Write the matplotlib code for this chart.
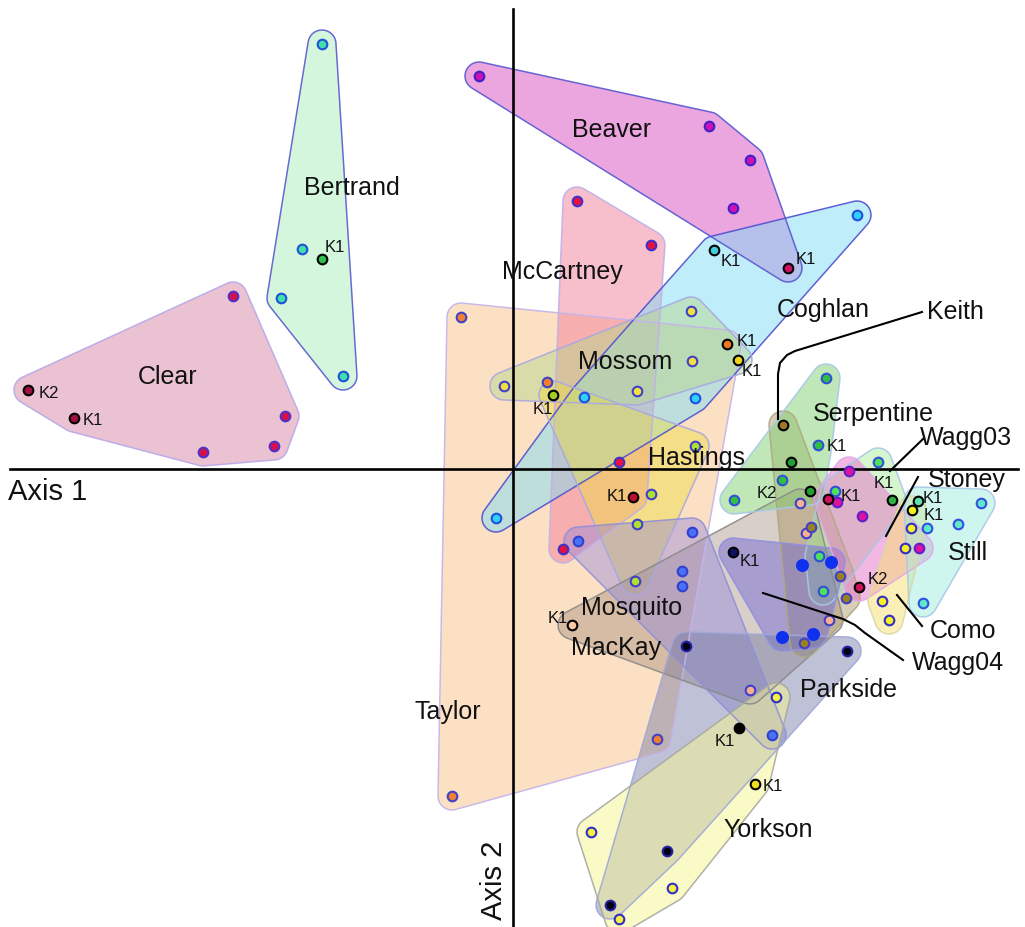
import numpy as np
import matplotlib.pyplot as plt
from matplotlib.patches import Polygon

plt.rcParams['font.family'] = ['Liberation Sans', 'DejaVu Sans']

# Site scores on ordination axes 1 and 2, one pair of lists per lake.
# *_k holds the K reference samples of the same lake.
clear_pts = [(-2.80, 1.73), (-2.28, 0.53), (-2.39, 0.23), (-3.10, 0.17)]
clear_k = [(-4.85, 0.79), (-4.39, 0.51)]
bertrand_pts = [(-1.91, 4.25), (-2.11, 2.20), (-2.32, 1.71), (-1.70, 0.93)]
bertrand_k = [(-1.91, 2.10)]
beaver_pts = [(-0.34, 3.93), (1.96, 3.43), (2.37, 3.09), (2.20, 2.61)]
beaver_k = [(2.75, 2.01)]
mccartney_pts = [(0.64, 2.68), (1.38, 2.24), (1.06, 0.07), (0.50, -0.80)]
mccartney_k = [(1.20, -0.28)]
coghlan_pts = [(3.44, 2.54), (0.71, 0.72), (1.82, 0.71), (-0.17, -0.49)]
coghlan_k = [(2.01, 2.19)]
mossom_pts = [(1.78, 1.58), (1.79, 1.08), (1.24, 0.78), (-0.09, 0.83)]
mossom_k = [(2.25, 1.09)]
taylor_pts = [(-0.52, 1.52), (0.34, 0.87), (1.44, -2.70), (-0.61, -3.27)]
taylor_k = [(2.14, 1.25)]
hastings_pts = [(1.82, 0.23), (1.38, -0.25), (1.24, -0.55), (1.22, -1.12)]
hastings_k = [(0.40, 0.74)]
mosquito_pts = [(0.65, -0.72), (1.79, -0.63), (1.69, -1.02), (1.69, -1.17), (2.59, -2.66)]
mosquito_k = []
mackay_pts = [(2.87, -0.34), (2.93, -0.64), (3.16, -1.51), (2.37, -2.21)]
mackay_k = [(0.59, -1.56)]
parkside_pts = [(1.73, -1.77), (3.34, -1.82), (1.54, -3.82), (0.97, -4.36)]
parkside_k = [(2.26, -2.59)]
yorkson_pts = [(2.63, -2.28), (0.78, -3.63), (1.59, -4.19), (1.06, -4.50)]
yorkson_k = [(2.42, -3.15)]
keith_pts = [(2.98, -0.58), (3.27, -1.07), (3.33, -1.29), (2.91, -1.74)]
keith_k = [(2.70, 0.44)]
serpentine_pts = [(3.13, 0.91), (3.05, 0.24), (2.69, -0.11), (2.21, -0.31)]
serpentine_k = [(2.78, 0.07), (2.97, -0.22)]
wagg03_pts = [(3.65, 0.07), (3.22, -0.22), (3.06, -0.87), (3.10, -1.22)]
wagg03_k = [(3.79, -0.31)]
wagg04_pts = [(2.89, -0.96), (3.18, -0.93), (2.69, -1.68), (3.00, -1.65)]
wagg04_k = [(2.20, -0.83)]
stoney_pts = [(3.36, -0.02), (3.49, -0.47), (3.24, -0.33), (4.06, -0.79)]
stoney_k = [(3.15, -0.30), (3.46, -1.18)]
como_pts = [(3.98, -0.59), (3.92, -0.79), (3.69, -1.32), (3.76, -1.51)]
como_k = [(3.99, -0.41)]
still_pts = [(4.68, -0.34), (4.45, -0.55), (4.14, -0.59), (4.10, -1.34)]
still_k = [(4.05, -0.32)]

# name, points, K points, hull fill, fill alpha, hull edge, marker face, marker edge, K face
lakes = [
    ("Taylor", taylor_pts, taylor_k, "#fbc793", 0.55, "#c4b4ec", "#f08030", "#4040c8", "#f07820"),
    ("Clear", clear_pts, clear_k, "#d787a7", 0.5, "#b8a8e8", "#d81048", "#5030c8", "#a01040"),
    ("Bertrand", bertrand_pts, bertrand_k, "#abefbd", 0.5, "#5a5ad0", "#40e0a8", "#2050d8", "#30c050"),
    ("Beaver", beaver_pts, beaver_k, "#d94dc1", 0.5, "#5858d0", "#d010b0", "#4020c8", "#d01060"),
    ("McCartney", mccartney_pts, mccartney_k, "#f17f9a", 0.5, "#c0b0e8", "#e81040", "#4030c8", "#c01030"),
    ("Coghlan", coghlan_pts, coghlan_k, "#81ddf5", 0.5, "#5050d0", "#30d0f8", "#2050e0", "#40d0e0"),
    ("Mossom", mossom_pts, mossom_k, "#b8d890", 0.5, "#a8a8e0", "#f0e040", "#4040c8", "#f0d020"),
    ("Hastings", hastings_pts, hastings_k, "#ebdd3f", 0.45, "#a8a8e0", "#b0e030", "#4040c8", "#a0d020"),
    ("MacKay", mackay_pts, mackay_k, "#a08878", 0.4, "#8a8a8a", "#f8b090", "#4040c8", "#f8c8a8"),
    ("Mosquito", mosquito_pts, mosquito_k, "#8a80e0", 0.4, "#9090d8", "#4a70f5", "#3040d0", "#4a70f5"),
    ("Keith", keith_pts, keith_k, "#a08850", 0.4, "#b0a880", "#9a8020", "#4040c8", "#a07828"),
    ("Serpentine", serpentine_pts, serpentine_k, "#81d171", 0.5, "#a8c8e8", "#30c040", "#3050d8", "#20a030"),
    ("Wagg03", wagg03_pts, wagg03_k, "#a0eb90", 0.45, "#a8c8e8", "#50e060", "#3050d8", "#30b040"),
    ("Wagg04", wagg04_pts, wagg04_k, "#6a60d8", 0.45, "#9090e0", "#1030f0", "#1030f0", "#101060"),
    ("Stoney", stoney_pts, stoney_k, "#e971c9", 0.5, "#e0a8e8", "#e010a0", "#6020c8", "#d0105a"),
    ("Como", como_pts, como_k, "#f7e170", 0.5, "#d8d8a8", "#f8f020", "#3030c8", "#f0f020"),
    ("Still", still_pts, still_k, "#a0ede0", 0.5, "#a8c8e8", "#60e8c8", "#3050e0", "#60e0b0"),
    ("Parkside", parkside_pts, parkside_k, "#7179a5", 0.45, "#a0a8d8", "#000010", "#2020a0", "#000000"),
    ("Yorkson", yorkson_pts, yorkson_k, "#f7f791", 0.5, "#a8a8a0", "#f8f040", "#3030c8", "#f0e020"),
]

# where each lake name is written
name_pos = {
    "Clear": (-3.45, 0.93), "Bertrand": (-1.61, 2.82), "Beaver": (0.99, 3.40),
    "McCartney": (0.49, 1.98), "Coghlan": (3.10, 1.60), "Keith": (4.42, 1.58),
    "Mossom": (1.12, 1.08), "Serpentine": (3.60, 0.56), "Hastings": (1.84, 0.12),
    "Wagg03": (4.53, 0.32), "Stoney": (4.54, -0.10), "Still": (4.55, -0.83),
    "Como": (4.50, -1.61), "Wagg04": (4.45, -1.93), "Mosquito": (1.19, -1.38),
    "MacKay": (1.03, -1.78), "Parkside": (3.36, -2.20), "Taylor": (-0.65, -2.42),
    "Yorkson": (2.55, -3.60),
}

k_tags = [
    ("K2", -4.64, 0.77), ("K1", -4.20, 0.49), ("K1", -1.78, 2.23), ("K1", 2.18, 2.09),
    ("K1", 2.93, 2.11), ("K1", 0.30, 0.60), ("K1", 2.34, 1.29), ("K1", 2.39, 0.99),
    ("K1", 3.24, 0.23), ("K2", 2.54, -0.24), ("K1", 3.38, -0.27), ("K1", 3.71, -0.14),
    ("K1", 4.20, -0.29), ("K1", 4.21, -0.46), ("K1", 2.37, -0.91), ("K2", 3.65, -1.10),
    ("K1", 1.04, -0.27), ("K1", 0.45, -1.49), ("K1", 2.12, -2.72), ("K1", 2.60, -3.17),
]

# leader lines from small hulls to their names
leaders = [
    [(2.65, 0.50), (2.65, 0.95), (2.67, 1.06), (2.74, 1.14), (2.82, 1.18), (4.09, 1.57)],
    [(3.77, -0.02), (4.10, 0.30)],
    [(3.73, -0.67), (4.05, -0.08)],
    [(3.84, -1.26), (4.09, -1.57)],
    [(2.50, -1.24), (3.30, -1.50), (3.42, -1.56), (3.52, -1.64), (3.90, -1.91)],
]


def convex_hull(pts):
    pts = sorted(map(tuple, pts))

    def cross(o, a, b):
        return (a[0] - o[0]) * (b[1] - o[1]) - (a[1] - o[1]) * (b[0] - o[0])

    lower, upper = [], []
    for p in pts:
        while len(lower) >= 2 and cross(lower[-2], lower[-1], p) <= 0:
            lower.pop()
        lower.append(p)
    for p in reversed(pts):
        while len(upper) >= 2 and cross(upper[-2], upper[-1], p) <= 0:
            upper.pop()
        upper.append(p)
    return np.array(lower[:-1] + upper[:-1])


def rounded_hull(points, r=0.14, n=36):
    pts = np.asarray(points, float)
    t = np.linspace(0, 2 * np.pi, n, endpoint=False)
    ring = np.column_stack([np.cos(t), np.sin(t)]) * r
    cloud = (pts[:, None, :] + ring[None, :, :]).reshape(-1, 2)
    return convex_hull(cloud)


fig = plt.figure(figsize=(10.25, 9.28), dpi=100)
ax = fig.add_axes([0, 0, 1, 1])
ax.set_xlim(-5.13, 5.12)
ax.set_ylim(-4.58, 4.70)
ax.set_aspect("equal")
ax.axis("off")

for name, pts, k, fill, alpha, edge, face, medge, kface in lakes:
    hull = rounded_hull(pts + k)
    ax.add_patch(Polygon(hull, closed=True, facecolor=fill, alpha=alpha,
                         edgecolor="none", zorder=1))
    ax.add_patch(Polygon(hull, closed=True, facecolor="none", edgecolor=edge,
                         lw=1.1, alpha=0.9, zorder=1.5))

# ordination axes
ax.plot([-5.03, 5.05], [0, 0], color="black", lw=1.9, zorder=2)
ax.plot([0, 0], [-4.60, 4.60], color="black", lw=1.9, zorder=2)

for name, pts, k, fill, alpha, edge, face, medge, kface in lakes:
    size = 62 if name == "Wagg04" else 48
    if pts:
        xs, ys = zip(*pts)
        ax.scatter(xs, ys, s=size, c=face, edgecolors=medge, linewidths=1.5, zorder=4)
    if k:
        xs, ys = zip(*k)
        ax.scatter(xs, ys, s=48, c=kface, edgecolors="black", linewidths=1.5, zorder=4)

for line in leaders:
    xs, ys = zip(*line)
    ax.plot(xs, ys, color="black", lw=1.5, zorder=5)

for name, (x, y) in name_pos.items():
    ax.text(x, y, name, fontsize=18, ha="center", va="center", color="#111111", zorder=6)

for tag, x, y in k_tags:
    ax.text(x, y, tag, fontsize=12, ha="center", va="center", color="#111111", zorder=6)

ax.text(-4.65, -0.22, "Axis 1", fontsize=21, ha="center", va="center", color="#111111")
ax.text(-0.19, -4.10, "Axis 2", fontsize=21, ha="center", va="center", rotation=90,
        color="#111111")

fig.savefig("out.png", dpi=100)
